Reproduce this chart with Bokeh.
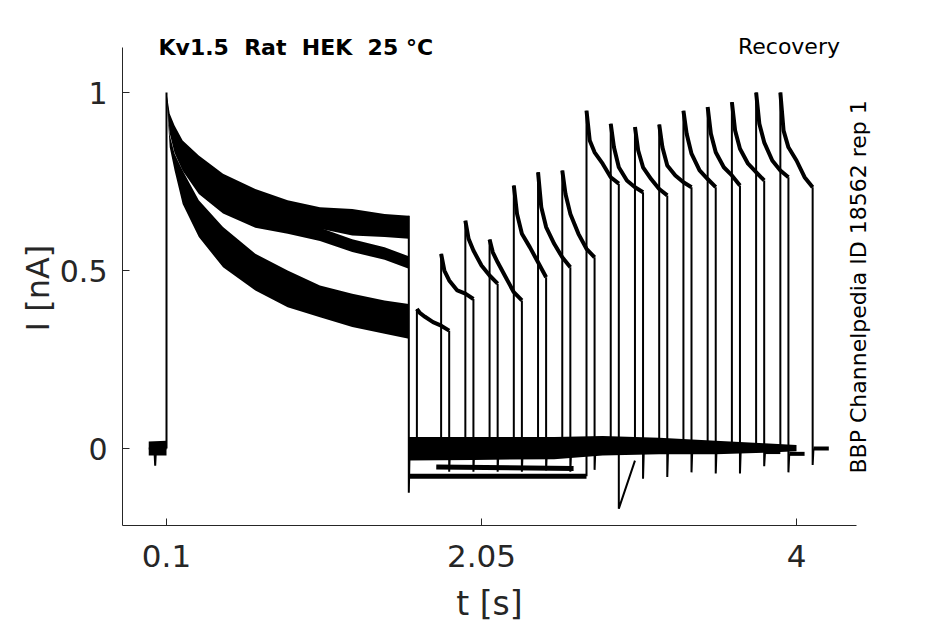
from bokeh.plotting import figure
from bokeh.models import Range1d, FixedTicker, Label
from bokeh.embed import file_html
from bokeh.resources import INLINE

# ---------------- data ----------------
x_ticks = [0.1, 2.05, 4.0]
x_tick_labels = ["0.1", "2.05", "4"]
y_ticks = [0.0, 0.5, 1.0]
y_tick_labels = ["0", "0.5", "1"]
x_axis_span = [-0.1724, 4.3714]   # extent of the drawn x axis
y_axis_span = [-0.2163, 1.1264]   # extent of the drawn y axis
x_canvas = [-0.92762, 4.91618]    # data values at the canvas edges
y_canvas = [-0.48876, 1.25843]

# holding level before the conditioning pulse
pre_t = [-0.01, 0.025, 0.03, 0.035, 0.1]
pre_i = [0.0, 0.0, -0.048, 0.0, 0.0]
pre_env_t = [-0.01, 0.1]
pre_env_hi = [0.02, 0.022]
pre_env_lo = [-0.02, -0.02]

# conditioning pulse (all sweeps)
cond_on = 0.1
cond_off = 1.6
cond_peak = 1.0
cond_off_top = 0.654
cond_off_dip = -0.124

band_t = [0.1, 0.12, 0.15, 0.2, 0.3, 0.45, 0.65, 0.85, 1.05, 1.25, 1.45, 1.6]
upper_hi = [1.0, 0.94, 0.907, 0.865, 0.823, 0.772, 0.729, 0.697, 0.678, 0.673, 0.659, 0.654]
upper_lo = [0.99, 0.893, 0.856, 0.818, 0.762, 0.715, 0.673, 0.640, 0.617, 0.598, 0.594, 0.589]
middle_hi = [1.0, 0.92, 0.87, 0.828, 0.772, 0.725, 0.683, 0.65, 0.62, 0.588, 0.565, 0.54]
middle_lo = [0.99, 0.885, 0.83, 0.78, 0.715, 0.66, 0.62, 0.603, 0.583, 0.552, 0.53, 0.505]
lower_hi = [1.0, 0.88, 0.828, 0.781, 0.697, 0.622, 0.547, 0.50, 0.458, 0.435, 0.416, 0.406]
lower_lo = [0.99, 0.846, 0.781, 0.687, 0.594, 0.509, 0.444, 0.397, 0.369, 0.341, 0.322, 0.308]

# recovery test pulses, one per sweep
test_on = [1.65, 1.80, 1.95, 2.10, 2.25, 2.40, 2.55, 2.70,
           2.85, 3.00, 3.15, 3.30, 3.45, 3.60, 3.75, 3.90]
test_len = 0.2
decay_dt = [0.0, 0.02, 0.05, 0.10, 0.15, 0.20]
test_i = [
    [0.392, 0.380, 0.370, 0.355, 0.345, 0.331],
    [0.547, 0.500, 0.472, 0.444, 0.435, 0.420],
    [0.640, 0.589, 0.556, 0.514, 0.486, 0.463],
    [0.587, 0.551, 0.523, 0.481, 0.439, 0.416],
    [0.739, 0.659, 0.603, 0.565, 0.523, 0.481],
    [0.776, 0.678, 0.622, 0.575, 0.537, 0.509],
    [0.781, 0.715, 0.659, 0.603, 0.561, 0.537],
    [0.949, 0.865, 0.832, 0.800, 0.762, 0.744],
    [0.912, 0.846, 0.790, 0.753, 0.734, 0.720],
    [0.903, 0.837, 0.790, 0.757, 0.729, 0.711],
    [0.910, 0.846, 0.795, 0.767, 0.748, 0.734],
    [0.949, 0.884, 0.828, 0.781, 0.757, 0.734],
    [0.959, 0.884, 0.832, 0.790, 0.767, 0.739],
    [0.973, 0.893, 0.842, 0.800, 0.776, 0.753],
    [1.000, 0.912, 0.860, 0.809, 0.781, 0.762],
    [1.000, 0.893, 0.846, 0.809, 0.762, 0.734],
]
gap_level = [0.0, 0.0, 0.0, 0.0, 0.0, 0.0, 0.0, -0.078,
             0.0, 0.0, 0.0, 0.0, 0.0, 0.0, 0.0, 0.0]
tail_dip = [-0.065, -0.065, -0.065, -0.065, -0.062, -0.065, -0.06, -0.169,
            -0.085, -0.08, -0.067, -0.07, -0.07, -0.05, -0.067, -0.046]
tail_rec = [0.005, 0.005, 0.005, 0.005, 0.005, 0.005, 0.005, 0.1,
            0.005, 0.005, 0.005, 0.005, 0.005, 0.005, 0.005, 0.005]
post_level = [0.0, 0.0, 0.0, 0.0, 0.0, 0.0, 0.0, -0.034,
              0.0, 0.0, 0.0, 0.0, 0.0, -0.01, -0.015, 0.0]
post_len = 0.1

# a drifted baseline between pulses
drift_t = [1.77, 2.62]
drift_i = [-0.052, -0.056]

# noise envelope of the overlapping baselines after the conditioning pulse
base_env_t = [1.6, 2.0, 2.5, 2.8, 3.15, 3.5, 3.8, 4.0]
base_env_hi = [0.032, 0.032, 0.032, 0.035, 0.03, 0.022, 0.015, 0.01]
base_env_lo = [-0.034, -0.032, -0.03, -0.02, -0.016, -0.016, -0.012, -0.008]

title_text = "Kv1.5 \u00a0Rat \u00a0HEK \u00a025 °C"
protocol_text = "Recovery"
source_text = "BBP Channelpedia ID 18562 rep 1"
x_label = "t [s]"
y_label = "I [nA]"

# ---------------- figure ----------------
INK = "#262626"
BLACK = "black"
p = figure(width=944, height=622, x_range=Range1d(*x_canvas), y_range=Range1d(*y_canvas),
           output_backend="svg", toolbar_location=None, min_border=0)
p.outline_line_color = None
p.grid.visible = False
p.background_fill_color = "white"
p.border_fill_color = "white"

for ax in (p.xaxis[0], p.yaxis[0]):
    ax.axis_line_color = INK
    ax.major_tick_line_color = INK
    ax.major_tick_in = 7
    ax.major_tick_out = 0
    ax.minor_tick_line_color = None
    ax.major_label_text_font = "DejaVu Sans"
    ax.major_label_text_color = INK

p.xaxis.fixed_location = y_axis_span[0]
p.xaxis.bounds = tuple(x_axis_span)
p.xaxis.ticker = FixedTicker(ticks=x_ticks)
p.xaxis.major_label_overrides = {t: l for t, l in zip(x_ticks, x_tick_labels)}
p.xaxis.major_label_text_font_size = "31px"
p.xaxis.major_label_standoff = 19
p.xaxis.axis_label = x_label
p.xaxis.axis_label_text_font = "DejaVu Sans"
p.xaxis.axis_label_text_font_size = "33px"
p.xaxis.axis_label_text_font_style = "normal"
p.xaxis.axis_label_text_color = INK
p.xaxis.axis_label_standoff = 14

p.yaxis.fixed_location = x_axis_span[0]
p.yaxis.bounds = tuple(y_axis_span)
p.yaxis.ticker = FixedTicker(ticks=y_ticks)
p.yaxis.major_label_overrides = {t: l for t, l in zip(y_ticks, y_tick_labels)}
p.yaxis.major_label_text_font_size = "30px"
p.yaxis.major_label_standoff = 15

# envelopes
p.varea(x=pre_env_t, y1=pre_env_lo, y2=pre_env_hi, fill_color=BLACK)
p.line(pre_t, pre_i, line_color=BLACK, line_width=2)
p.varea(x=band_t, y1=upper_lo, y2=upper_hi, fill_color=BLACK)
p.varea(x=band_t, y1=middle_lo, y2=middle_hi, fill_color=BLACK)
p.varea(x=band_t, y1=lower_lo, y2=lower_hi, fill_color=BLACK)
p.varea(x=base_env_t, y1=base_env_lo, y2=base_env_hi, fill_color=BLACK)

# edges and baselines of every sweep
edge_xs = [[cond_on, cond_on], [cond_off, cond_off, cond_off + 0.005]]
edge_ys = [[0.0, cond_peak], [cond_off_top, cond_off_dip, 0.0]]
gap_xs, gap_ys, dec_xs, dec_ys, post_xs, post_ys = [], [], [], [], [], []
for k, on in enumerate(test_on):
    end = on + test_len
    g = gap_level[k]
    gap_xs.append([cond_off + 0.005, on])
    gap_ys.append([g, g])
    edge_xs.append([on, on])
    edge_ys.append([g, test_i[k][0]])
    dec_xs.append([on + d for d in decay_dt])
    dec_ys.append(list(test_i[k]))
    edge_xs.append([end, end, end + tail_rec[k]])
    edge_ys.append([test_i[k][-1], tail_dip[k], post_level[k]])
    post_xs.append([end + tail_rec[k], end + post_len])
    post_ys.append([post_level[k], post_level[k]])

p.multi_line(gap_xs, gap_ys, line_color=BLACK, line_width=5)
p.line(drift_t, drift_i, line_color=BLACK, line_width=5)
p.multi_line(post_xs, post_ys, line_color=BLACK, line_width=4)
p.multi_line(edge_xs, edge_ys, line_color=BLACK, line_width=2)
p.multi_line(dec_xs, dec_ys, line_color=BLACK, line_width=4)

# texts
p.add_layout(Label(x=0.0505, y=1.1278, text=title_text, text_font="DejaVu Sans",
                   text_font_size="22px", text_font_style="bold", text_color=BLACK,
                   text_align="left", text_baseline="alphabetic"))
p.add_layout(Label(x=4.269, y=1.129, text=protocol_text, text_font="DejaVu Sans",
                   text_font_size="22px", text_color=BLACK,
                   text_align="right", text_baseline="alphabetic"))
p.add_layout(Label(x=4.382, y=-0.0702, text=source_text, text_font="DejaVu Sans",
                   text_font_size="22px", text_color=BLACK, angle=1.5707963,
                   text_align="left", text_baseline="alphabetic"))
p.add_layout(Label(x=-0.6955, y=0.4508, text=y_label, text_font="DejaVu Sans",
                   text_font_size="32px", text_color=INK, angle=1.5707963,
                   text_align="center", text_baseline="alphabetic"))

open("out.html", "w").write(file_html(p, INLINE))
